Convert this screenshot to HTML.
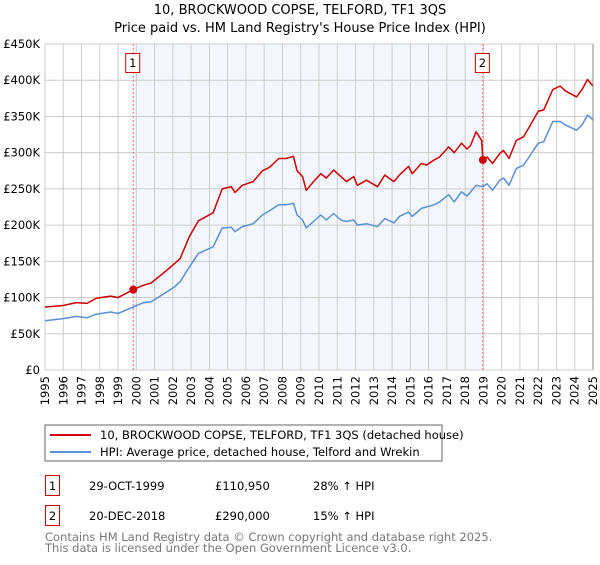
<!DOCTYPE html>
<html><head><meta charset="utf-8"><style>
body{margin:0;background:#fff;font-family:"Liberation Sans","DejaVu Sans",sans-serif;}
svg text{font-family:"DejaVu Sans","Liberation Sans",sans-serif;}
</style></head><body>
<svg width="600" height="560" viewBox="0 0 600 560" xmlns="http://www.w3.org/2000/svg">
<text x="300" y="14" text-anchor="middle" font-size="13" fill="#000">10, BROCKWOOD COPSE, TELFORD, TF1 3QS</text>
<text x="300" y="32" text-anchor="middle" font-size="13" fill="#000">Price paid vs. HM Land Registry's House Price Index (HPI)</text>
<g id="plot"></g>
<rect x="45" y="425" width="397" height="36" fill="#fff" stroke="#666"/>
<line x1="50" y1="435" x2="91" y2="435" stroke="#cc0000" stroke-width="2"/>
<text x="100" y="439" font-size="11.5">10, BROCKWOOD COPSE, TELFORD, TF1 3QS (detached house)</text>
<line x1="50" y1="452" x2="91" y2="452" stroke="#5b8fd4" stroke-width="2"/>
<text x="100" y="456" font-size="11.5">HPI: Average price, detached house, Telford and Wrekin</text>
<g font-size="11.5">
<rect x="45.5" y="475.5" width="14" height="20" fill="#fff" stroke="#cc0000"/>
<text x="52.5" y="490" text-anchor="middle">1</text>
<text x="89" y="490">29-OCT-1999</text>
<text x="215" y="490">£110,950</text>
<text x="313" y="490">28% ↑ HPI</text>
<rect x="45.5" y="505.5" width="14" height="20" fill="#fff" stroke="#cc0000"/>
<text x="52.5" y="520" text-anchor="middle">2</text>
<text x="89" y="520">20-DEC-2018</text>
<text x="215" y="520">£290,000</text>
<text x="313" y="520">15% ↑ HPI</text>
</g>
<text x="45" y="541" font-size="11.5" fill="#777">Contains HM Land Registry data © Crown copyright and database right 2025.</text>
<text x="45" y="552" font-size="11.5" fill="#777">This data is licensed under the Open Government Licence v3.0.</text>
</svg>
<script>
const yearTicks=[1995,1996,1997,1998,1999,2000,2001,2002,2003,2004,2005,2006,2007,2008,2009,2010,2011,2012,2013,2014,2015,2016,2017,2018,2019,2020,2021,2022,2023,2024,2025];
const valueTicks=[0,50000,100000,150000,200000,250000,300000,350000,400000,450000];
const valueLabels=["£0","£50K","£100K","£150K","£200K","£250K","£300K","£350K","£400K","£450K"];
const redYears=[1995,1996,1996.7,1997.3,1997.8,1998.6,1999,1999.83,2000.4,2000.8,2001.3,2002.1,2002.4,2002.9,2003.4,2004.2,2004.7,2005.2,2005.4,2005.8,2006.4,2006.9,2007.3,2007.8,2008.2,2008.6,2008.8,2009.1,2009.3,2009.7,2010.1,2010.4,2010.8,2011.2,2011.5,2011.9,2012.1,2012.6,2013.2,2013.6,2014.1,2014.4,2014.9,2015.1,2015.6,2015.9,2016.3,2016.6,2017.1,2017.4,2017.8,2018.1,2018.3,2018.6,2018.9,2018.97,2019.2,2019.5,2019.9,2020.1,2020.4,2020.8,2021.2,2021.5,2022.0,2022.3,2022.8,2023.2,2023.5,2024.1,2024.4,2024.7,2025.0];
const redValues=[87,89,93,92,99,102,100,110.95,117,120,130,147,154,184,206,217,250,253,245,255,260,275,280,292,292,295,275,267,248,260,271,265,276,267,260,267,255,262,253,269,260,269,281,271,285,283,290,294,308,300,313,305,310,329,317,290,294,285,299,303,292,317,322,335,357,359,387,392,385,377,387,401,392];
const blueYears=[1995,1996,1996.7,1997.3,1997.8,1998.6,1999,1999.83,2000.4,2000.8,2001.3,2002.1,2002.4,2002.9,2003.4,2004.2,2004.7,2005.2,2005.4,2005.8,2006.4,2006.9,2007.3,2007.8,2008.2,2008.6,2008.8,2009.1,2009.3,2009.7,2010.1,2010.4,2010.8,2011.2,2011.5,2011.9,2012.1,2012.6,2013.2,2013.6,2014.1,2014.4,2014.9,2015.1,2015.6,2016.3,2016.6,2017.1,2017.4,2017.8,2018.1,2018.6,2018.97,2019.2,2019.5,2019.9,2020.1,2020.4,2020.8,2021.2,2021.5,2022.0,2022.3,2022.8,2023.2,2023.5,2024.1,2024.4,2024.7,2025.0];
const blueValues=[68,71,74,72,77,80,78,87,93,94,102,115,122,142,161,170,196,197,191,198,202,214,220,228,228,230,214,207,196,205,214,207,216,207,205,207,200,202,198,209,203,212,218,212,223,228,232,242,232,246,240,255,253,257,248,262,265,255,278,283,294,313,315,343,343,338,331,338,352,345];
const saleYears=[1999.83,2018.97];
const saleValues=[110.95,290];
const saleLabels=["1","2"];

const L=45,R=593,T=44,B=370;
const xs=y=>L+(y-1995)/30*(R-L);
const ys=v=>B-v/450000*(B-T);
const NS="http://www.w3.org/2000/svg";
const g=document.getElementById('plot');
function mk(tag,attrs,parent){const e=document.createElementNS(NS,tag);for(const k in attrs)e.setAttribute(k,attrs[k]);(parent||g).appendChild(e);return e;}
const shade=mk('rect',{x:xs(saleYears[0]),y:T,width:xs(saleYears[1])-xs(saleYears[0]),height:B-T,fill:'#eef3fc',opacity:0.7});


yearTicks.forEach(yr=>{
  const ln=mk('line',{x1:xs(yr),x2:xs(yr),y1:T,y2:B,stroke:'#cccccc','stroke-width':1});
  
  
  const t=mk('text',{x:0,y:0,'font-size':11.5,'text-anchor':'end',transform:`translate(${xs(yr)+4},${B+6}) rotate(-90)`});
  t.textContent=yr;
  
  
});
valueTicks.forEach((v,i)=>{
  const ln=mk('line',{x1:L,x2:R,y1:ys(v),y2:ys(v),stroke:'#cccccc','stroke-width':1});
  
  
  const t=mk('text',{x:L-5,y:ys(v)+4,'font-size':11.5,'text-anchor':'end'});
  t.textContent=valueLabels[i];
  
  
});
saleYears.forEach((yr,i)=>{
  const ln=mk('line',{x1:xs(yr),x2:xs(yr),y1:T,y2:B,stroke:'#ee6666','stroke-width':1,'stroke-dasharray':'2,2'});
  
  
});
function path(xv,yv,color,name){
  const d=xv.map((x,i)=>(i?'L':'M')+xs(x).toFixed(1)+','+ys(yv[i]*1000).toFixed(1)).join('');
  const p=mk('path',{d:d,fill:'none',stroke:color,'stroke-width':1.5,'stroke-linejoin':'round'});
  
  
}
path(blueYears,blueValues,'#5b8fd4','hpi-line');
path(redYears,redValues,'#cc0000','property-line');
saleYears.forEach((yr,i)=>{
  const c=mk('circle',{cx:xs(yr),cy:ys(saleValues[i]*1000),r:4,fill:'#cc0000'});
  
  
  const bx=mk('rect',{x:xs(yr)-7.5,y:53.5,width:14,height:19,fill:'#fff',stroke:'#cc0000'});
  
  
  const t=mk('text',{x:xs(yr)-0.5,y:67,'font-size':11.5,'text-anchor':'middle'});
  t.textContent=saleLabels[i];
  
  
});
const ax=mk('line',{x1:R,x2:R,y1:T,y2:B,stroke:'#888','stroke-width':1});


</script>
</body></html>
